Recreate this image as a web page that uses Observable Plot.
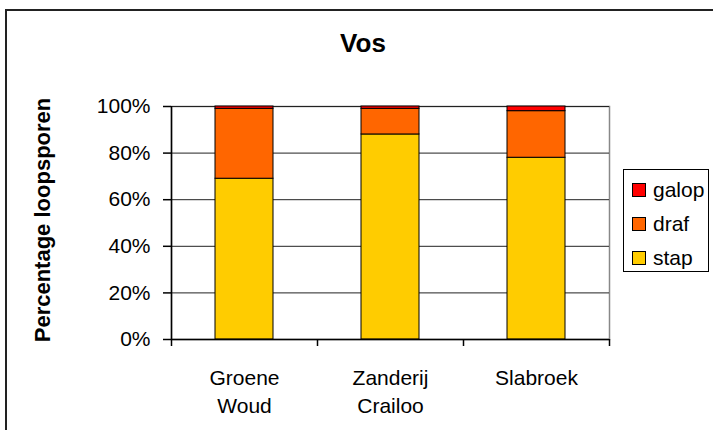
<!DOCTYPE html>
<html>
<head>
<meta charset="utf-8">
<script src="https://cdn.jsdelivr.net/npm/d3@7"></script>
<script src="https://cdn.jsdelivr.net/npm/@observablehq/plot@0.6"></script>
<style>
  html, body { margin: 0; padding: 0; background: #fff; overflow: hidden; }
  #wrap { position: relative; width: 713px; height: 430px; overflow: hidden; font-family: "Liberation Sans", Arial, sans-serif; }
  #border { position: absolute; left: 5px; top: 9px; width: 900px; height: 600px; border-left: 2px solid #222; border-top: 2px solid #222; }
  #title { position: absolute; left: 0; width: 726px; top: 30px; text-align: center; font-weight: bold; font-size: 26px; line-height: 1; color: #000; }
  #ylabel { position: absolute; left: 43px; top: 220px; transform: translate(-50%, -50%) rotate(-90deg); white-space: nowrap; font-weight: bold; font-size: 22px; line-height: 1; color: #000; }
  #legend { position: absolute; left: 623px; top: 169px; width: 86px; height: 103px; border: 1px solid #000; box-sizing: border-box; }
  .item { position: absolute; left: 8px; height: 24px; display: flex; align-items: center; font-size: 21px; color: #000; }
  .sw { width: 12px; height: 12px; border: 1px solid #000; margin-right: 7px; }
  #chart { position: absolute; left: 0; top: 0; }
</style>
</head>
<body>
<div id="wrap">
  <div id="border"></div>
  <div id="chart"></div>
  <div id="title"></div>
  <div id="ylabel"></div>
  <div id="legend"></div>
</div>
<script>
// Data
const categories = ["Groene Woud", "Zanderij Crailoo", "Slabroek"];
const categoryLabels = ["Groene\nWoud", "Zanderij\nCrailoo", "Slabroek"];
const seriesNames = ["stap", "draf", "galop"];
const stap = [69, 88, 78];
const draf = [30, 11, 20];
const galop = [1, 1, 2];
const seriesColors = ["#FFCC00", "#FF6600", "#FF0000"];
const yTicks = [0, 20, 40, 60, 80, 100];
const titleText = "Vos";
const yLabelText = "Percentage loopsporen";
const legendOrder = ["galop", "draf", "stap"];

const seriesValues = {stap, draf, galop};
const rows = [];
seriesNames.forEach(s => categories.forEach((c, i) => rows.push({category: c, series: s, value: seriesValues[s][i]})));

const W = 713, H = 430;
const mLeft = 171, mRight = 104, mTop = 106, mBottom = 91;
const step = (W - mLeft - mRight) / categories.length;
const font = "Liberation Sans, Arial, sans-serif";

const chart = Plot.plot({
  width: W,
  height: H,
  marginLeft: mLeft,
  marginRight: mRight,
  marginTop: mTop,
  marginBottom: mBottom,
  style: {fontFamily: font, fontSize: "21px", color: "#000", background: "transparent"},
  x: {domain: categories, paddingInner: 0.6, paddingOuter: 0.3, label: null},
  y: {domain: [0, 100], label: null},
  color: {domain: seriesNames, range: seriesColors},
  marks: [
    Plot.frame({stroke: "#888", strokeWidth: 1.5}),
    Plot.ruleY(yTicks.filter(d => d > 0), {stroke: "#222", strokeWidth: 1}),
    Plot.barY(rows, {x: "category", y: "value", fill: "series", z: "series", order: seriesNames, stroke: "#000", strokeWidth: 1}),
    Plot.ruleY([0], {stroke: "#000", strokeWidth: 1.5}),
    Plot.ruleX([categories[0]], {stroke: "#000", strokeWidth: 1.5, dx: -step / 2}),
    Plot.ruleX(categories, {y1: 0, y2: 0, insetBottom: -7, stroke: "#000", strokeWidth: 1.5, dx: -step / 2}),
    Plot.ruleX([categories[categories.length - 1]], {y1: 0, y2: 0, insetBottom: -7, stroke: "#000", strokeWidth: 1.5, dx: step / 2}),
    Plot.axisY({ticks: yTicks, tickFormat: d => d + "%", tickSize: 8, tickPadding: 13, label: null, fontSize: 21, stroke: "#000", strokeWidth: 1.5}),
    Plot.axisX({tickSize: 0, tickPadding: 26, label: null, fontSize: 21, lineHeight: 1.33,
      tickFormat: d => categoryLabels[categories.indexOf(d)]})
  ]
});
document.getElementById("chart").appendChild(chart);
document.getElementById("title").textContent = titleText;
document.getElementById("ylabel").textContent = yLabelText;

const legend = document.getElementById("legend");
legendOrder.forEach((s, i) => {
  const item = document.createElement("div");
  item.className = "item";
  item.style.top = (8 + i * 34) + "px";
  const sw = document.createElement("div");
  sw.className = "sw";
  sw.style.background = seriesColors[seriesNames.indexOf(s)];
  const t = document.createElement("span");
  t.textContent = s;
  item.appendChild(sw);
  item.appendChild(t);
  legend.appendChild(item);
});
</script>
</body>
</html>
